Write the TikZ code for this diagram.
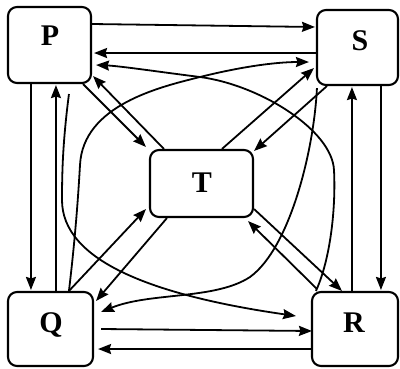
\documentclass[tikz,border=0pt]{standalone}
\usepackage{fontspec}
\setmainfont{Liberation Serif}
\usetikzlibrary{arrows.meta,calc}
\begin{document}
\begin{tikzpicture}[x=1pt,y=-1pt,
  box/.style={draw, line width=2.1pt, rounded corners=9pt, inner sep=0pt},
  conn/.style={line width=1.8pt, -{Stealth[length=13pt,width=10pt,inset=1.5pt]}},
  lab/.style={font=\fontsize{30}{32}\selectfont\bfseries, anchor=base, inner sep=0pt}]
\useasboundingbox (0,0) rectangle (400,368);
% boxes
\node[box, minimum width=83pt, minimum height=76pt] (P) at (49.5,45) {};
\node[box, minimum width=81pt, minimum height=75pt] (S) at (357.5,47.5) {};
\node[box, minimum width=103pt, minimum height=67pt] (T) at (201.5,183.5) {};
\node[box, minimum width=85pt, minimum height=74pt] (Q) at (50.5,329) {};
\node[box, minimum width=86pt, minimum height=74pt] (R) at (355,329) {};
% labels
\node[lab] (lP) at (50,45) {P};
\node[lab] (lS) at (360,50) {S};
\node[lab] (lT) at (202,192) {T};
\node[lab] (lQ) at (51,332) {Q};
\node[lab] (lR) at (354,332) {R};
% P - S
\draw[conn] ([shift={(0,-21)}]P.east) -- ([shift={(-1,-20.5)}]S.west);
\draw[conn] ([shift={(0,5.5)}]S.west) -- ([shift={(2,8)}]P.east);
% P - T
\draw[conn] ([shift={(-9,0)}]P.south east) -- ([shift={(-3,-2)}]T.north west);
\draw[conn] ([shift={(15,0)}]T.north west) -- ([shift={(1,-8)}]P.south east);
% S - T
\draw[conn] ([shift={(73,0)}]T.north west) -- ([shift={(-2,-18)}]S.south west);
\draw[conn] ([shift={(11,0)}]S.south west) -- ([shift={(0,2)}]T.north east);
% Q - T
\draw[conn] ([shift={(62,0)}]Q.north west) -- ([shift={(-3,-9)}]T.south west);
\draw[conn] ([shift={(18,0)}]T.south west) -- ([shift={(2,10)}]Q.north east);
% R - T
\draw[conn] ([shift={(0,-9)}]T.south east) -- ([shift={(31,0)}]R.north west);
\draw[conn] ([shift={(6,-2)}]R.north west) -- ([shift={(-6,3)}]T.south east);
% P - Q
\draw[conn] ([shift={(24,0)}]P.south west) -- ([shift={(24,-1)}]Q.north west);
\draw[conn] ([shift={(49,0)}]Q.north west) -- ([shift={(49,1)}]P.south west);
% S - R
\draw[conn] ([shift={(65,0)}]S.south west) -- ([shift={(70,-1)}]R.north west);
\draw[conn] ([shift={(41,0)}]R.north west) -- ([shift={(36,1)}]S.south west);
% Q - R
\draw[conn] ([shift={(7,0)}]Q.east) -- ([shift={(1,2)}]R.west);
\draw[conn] ([shift={(0,20)}]R.west) -- ([shift={(4,20)}]Q.east);
% curves
\draw[conn] ([shift={(62,10)}]P.south west) .. controls (63,140) and (62,170) .. (62,200)
   .. controls (62,260) and (150,295) .. ([shift={(-15,-13)}]R.west);
\draw[conn] ([shift={(62,0)}]Q.north west) .. controls (75,240) and (78,200) .. (80,165)
   .. controls (83,105) and (160,87) .. (200,77)
   .. controls (240,67) and (275,62) .. ([shift={(-7,14.5)}]S.west);
\draw[conn] ([shift={(5,0)}]R.north west) .. controls (330,260) and (336,210) .. (334,170)
   .. controls (332,130) and (260,85) .. (200,77)
   .. controls (160,72) and (120,66) .. ([shift={(4,20)}]P.east);
\draw[conn] ([shift={(1,2)}]S.south west) .. controls (314,150) and (290,248) .. (250,277)
   .. controls (215,300) and (150,292) .. ([shift={(7,-17)}]Q.east);
\end{tikzpicture}
\end{document}
